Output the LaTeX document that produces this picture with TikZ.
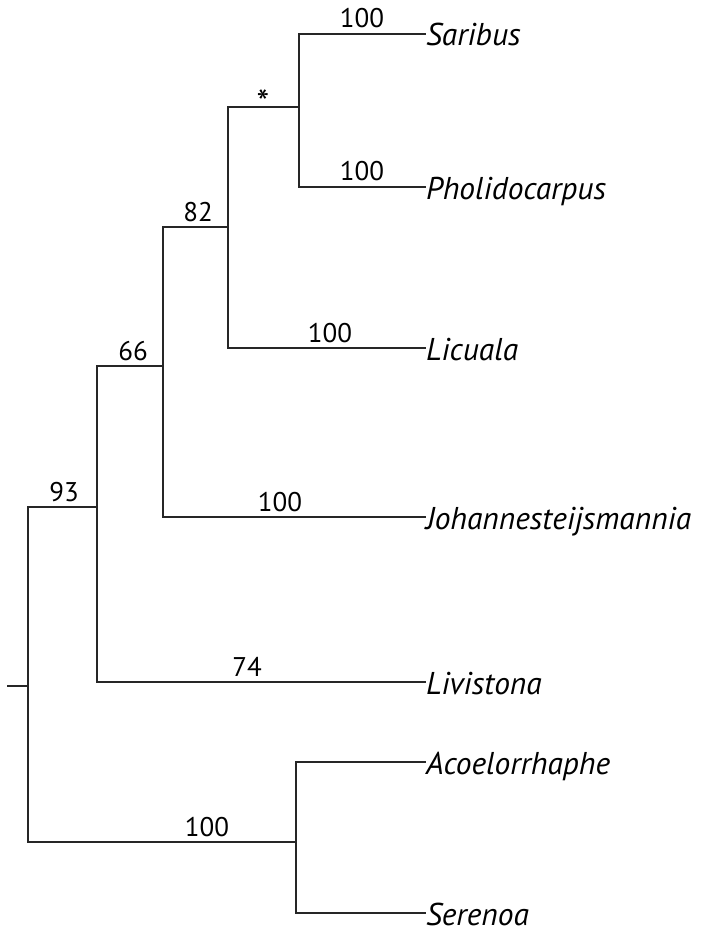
\documentclass[tikz,border=0pt]{standalone}
\usepackage{fontspec}
\setmainfont{PT Sans}
\begin{document}
\begin{tikzpicture}[x=1pt, y=-1pt, line width=2pt]
        \tikzstyle{taxon}=[anchor=west, inner sep=0pt, text height=24pt, text depth=0pt, font=\fontsize{31.5}{34}\selectfont\itshape]
        \tikzstyle{support}=[anchor=base, inner sep=0pt, font=\fontsize{27}{30}\selectfont]
        \tikzstyle{branch}=[draw=black!85, line cap=rect]
        \useasboundingbox (0,0) rectangle (703,928);

        % internal nodes
        \coordinate (stub) at (8,686);
        \coordinate (root) at (28,686);
        \coordinate (c93) at (97,507);
        \coordinate (c66) at (163,366);
        \coordinate (c82) at (228,227);
        \coordinate (cstar) at (299,107);
        \coordinate (c100) at (296,842);

        % tips
        \node[taxon] (saribus) at (425,34) {Saribus};
        \node[taxon] (pholido) at (425,187) {Pholidocarpus};
        \node[taxon] (licuala) at (425,348) {Licuala};
        \node[taxon] (johannes) at (425,517) {Johannesteijsmannia};
        \node[taxon] (livistona) at (425,682) {Livistona};
        \node[taxon] (acoelo) at (425,762) {Acoelorrhaphe};
        \node[taxon] (serenoa) at (425,913) {Serenoa};

        % branches
        \draw[branch] (stub) -- (root);
        \draw[branch] (root) |- (c93);
        \draw[branch] (root) |- (c100);
        \draw[branch] (c93) |- (c66);
        \draw[branch] (c93) |- (livistona.west);
        \draw[branch] (c66) |- (c82);
        \draw[branch] (c66) |- (johannes.west);
        \draw[branch] (c82) |- (cstar);
        \draw[branch] (c82) |- (licuala.west);
        \draw[branch] (cstar) |- (saribus.west);
        \draw[branch] (cstar) |- (pholido.west);
        \draw[branch] (c100) |- (acoelo.west);
        \draw[branch] (c100) |- (serenoa.west);

        % support values
        \node[support] (s1) at (362,28) {100};
        \node[support] (s2) at (362,181) {100};
        \node[anchor=north, inner sep=0pt, font=\fontsize{36}{38}\selectfont] (s3) at (263,89) {*};
        \node[support] (s4) at (198,221) {82};
        \node[support] (s5) at (330,342) {100};
        \node[support] (s6) at (133,360) {66};
        \node[support] (s7) at (280,511) {100};
        \node[support] (s8) at (64,501) {93};
        \node[support] (s9) at (247,676) {74};
        \node[support] (s10) at (207,836) {100};
\end{tikzpicture}
\end{document}
